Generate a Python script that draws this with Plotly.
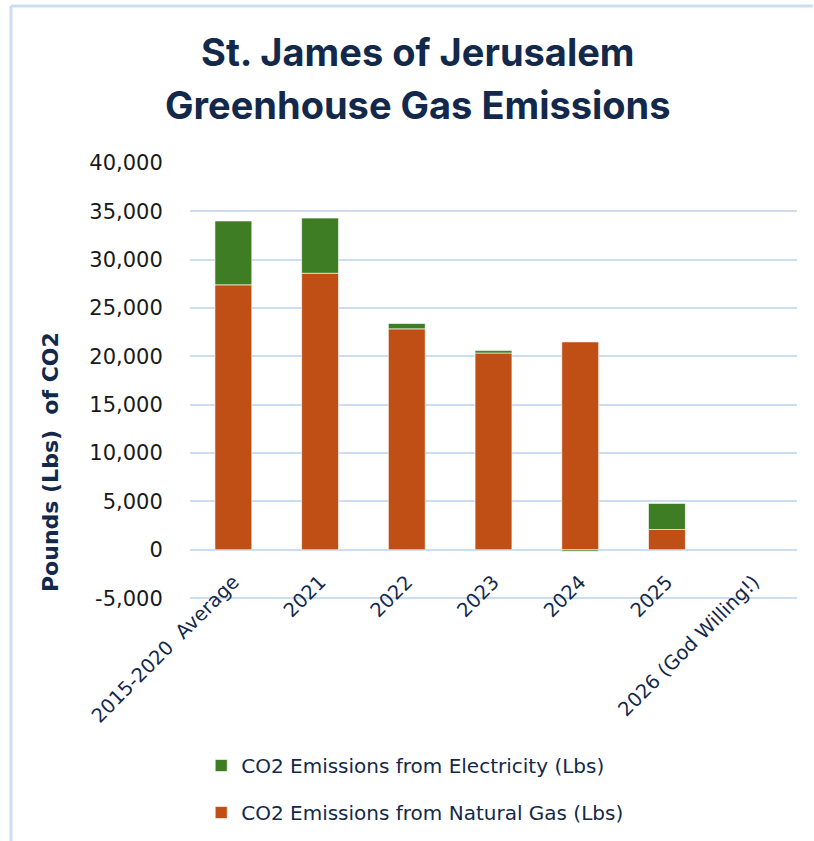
import plotly.graph_objects as go

categories = ["2015-2020  Average", "2021", "2022", "2023", "2024", "2025", "2026 (God Willing!)"]
natural_gas = [27400, 28600, 22850, 20350, 21500, 2100, None]
electricity = [6600, 5700, 550, 250, -150, 2700, None]
y_ticks = [-5000, 0, 5000, 10000, 15000, 20000, 25000, 30000, 35000, 40000]
y_tick_text = ["-5,000", "0", "5,000", "10,000", "15,000", "20,000", "25,000", "30,000", "35,000", "40,000"]
title_lines = ["St. James of Jerusalem", "Greenhouse Gas Emissions"]
y_title = "Pounds (Lbs)  of CO2"

GREEN = "#3E7D23"
ORANGE = "#C04F15"
NAVY = "#13294B"
GRID = "#CCDDF1"

W, H = 814, 841
Y_MIN, Y_MAX = -5500, 40100
PX_PER_UNIT = (598 - 163) / 45000
L, R = 190, 17
T = round(163 - (Y_MAX - 40000) * PX_PER_UNIT)
B = round(H - (598 + (-5000 - Y_MIN) * PX_PER_UNIT))
PW, PH = W - L - R, H - T - B

fig = go.Figure()
fig.add_trace(go.Bar(
    x=categories, y=natural_gas, name="CO2 Emissions from Natural Gas (Lbs)",
    marker=dict(color=ORANGE, line=dict(color="rgba(255,255,255,0.6)", width=1)),
    legendgroup="g", legendrank=2,
))
fig.add_trace(go.Bar(
    x=categories, y=electricity, name="CO2 Emissions from Electricity (Lbs)",
    marker=dict(color=GREEN, line=dict(color="rgba(255,255,255,0.6)", width=1)),
    legendgroup="e", legendrank=1,
))

def px_x(x):
    return (x - L) / PW

def px_y(y):
    return (H - B - y) / PH

annotations = [
    dict(text=f"<b>{title_lines[0]}</b>", xref="paper", yref="paper", x=px_x(418), y=px_y(52),
         xanchor="center", yanchor="middle", showarrow=False,
         font=dict(family="Inter, Roboto, sans-serif", size=38, color=NAVY)),
    dict(text=f"<b>{title_lines[1]}</b>", xref="paper", yref="paper", x=px_x(418), y=px_y(105),
         xanchor="center", yanchor="middle", showarrow=False,
         font=dict(family="Inter, Roboto, sans-serif", size=38, color=NAVY)),
    dict(text=f"<b>{y_title}</b>", xref="paper", yref="paper", x=px_x(50), y=px_y(462),
         xanchor="center", yanchor="middle", showarrow=False, textangle=-90,
         font=dict(family="DejaVu Sans, sans-serif", size=22, color=NAVY)),
]

fig.update_layout(
    width=W, height=H,
    barmode="relative",
    bargap=0.575,
    paper_bgcolor="white", plot_bgcolor="white",
    margin=dict(l=L, r=R, t=T, b=B, autoexpand=False),
    annotations=annotations,
    yaxis=dict(
        range=[Y_MIN, Y_MAX], tickvals=y_ticks, ticktext=y_tick_text,
        showgrid=True, gridcolor=GRID, gridwidth=2,
        zeroline=False, showline=False, automargin=False,
        tickfont=dict(family="DejaVu Sans, sans-serif", size=21, color="#1a1a1a"),
        ticks="outside", ticklen=22, tickcolor="rgba(0,0,0,0)",
    ),
    xaxis=dict(
        tickangle=-45, showline=False, showgrid=False, automargin=False,
        anchor="free", position=(0 - Y_MIN) / (Y_MAX - Y_MIN),
        ticks="outside", ticklen=12, tickcolor="rgba(0,0,0,0)",
        tickfont=dict(family="DejaVu Sans, sans-serif", size=19.5, color=NAVY),
    ),
    legend=dict(
        x=0.0185, xanchor="left", yref="container", y=1 - 746 / H, yanchor="top",
        traceorder="grouped", tracegroupgap=18,
        font=dict(family="DejaVu Sans, sans-serif", size=20, color=NAVY),
        itemwidth=30,
    ),
    shapes=[
        dict(type="line", xref="paper", yref="paper",
             x0=px_x(11), x1=px_x(11), y0=px_y(6), y1=px_y(841),
             line=dict(color=GRID, width=3), layer="below"),
        dict(type="line", xref="paper", yref="paper",
             x0=px_x(11), x1=px_x(813), y0=px_y(6), y1=px_y(6),
             line=dict(color=GRID, width=3), layer="below"),
    ],
)

fig.write_html("out.html")
